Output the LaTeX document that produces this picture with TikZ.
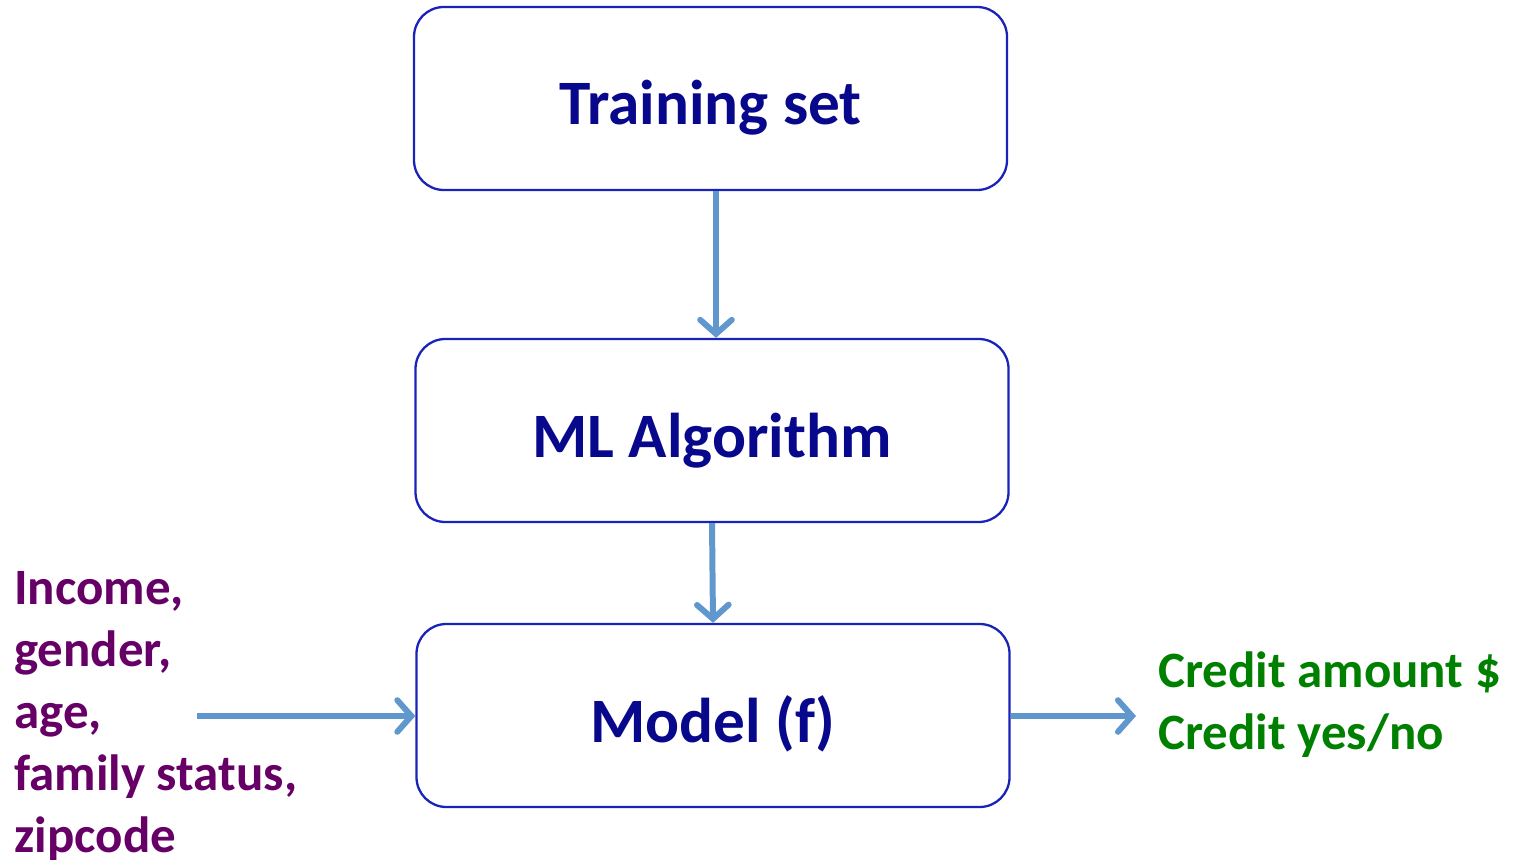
\documentclass[tikz,border=0pt]{standalone}
\usepackage{fontspec}
\setmainfont{Carlito}
\usepackage{tikz}
\usetikzlibrary{positioning, arrows.meta}
\definecolor{boxtext}{RGB}{8,8,140}
\definecolor{boxline}{RGB}{25,35,185}
\definecolor{flow}{RGB}{96,152,206}
\definecolor{inpurple}{RGB}{102,0,102}
\definecolor{outgreen}{RGB}{0,128,0}
\tikzset{
  stage/.style={draw=boxline, line width=1.3pt, rounded corners=17pt,
    minimum width=11.86cm, minimum height=3.66cm, text=boxtext,
    text height=1.06cm, text depth=0pt,
    font=\fontsize{36}{43}\selectfont\bfseries},
  flowarrow/.style={draw=flow, line width=3.4pt,
    -{Straight Barb[length=8pt, width=18pt, line cap=round]}}
}
\begin{document}
\begin{tikzpicture}
      \useasboundingbox (0,0) rectangle (30.26,-17.18);

      \node[stage] (train) at (14.21,-1.97) {Training set};
      \node[stage] (algo) at (14.24,-8.61) {ML Algorithm};
      \node[stage] (model) at (14.26,-14.31) {Model (f)};

      \node[anchor=north west, inner sep=0pt, align=left, text=inpurple,
        font=\fontsize{29}{35.3}\selectfont\bfseries] (inputs) at (0.28,-11.42)
        {Income,\\gender,\\age,\\family status,\\zipcode};
      \node[anchor=north west, inner sep=0pt, align=left, text=outgreen,
        font=\fontsize{29}{35.3}\selectfont\bfseries] (outputs) at (23.16,-13.02)
        {Credit amount \$\\Credit yes/no};

      \coordinate (infrom) at (3.94,-14.32);
      \coordinate (outto) at (22.72,-14.32);

      \draw[flowarrow] (train.south -| 14.32,0) -- (algo.north -| 14.32,0);
      \draw[flowarrow] (algo.south -| 14.24,0) -- (model.north -| 14.26,0);
      \draw[flowarrow] (infrom) -- (model.west |- infrom);
      \draw[flowarrow] (model.east |- outto) -- (outto);
    \end{tikzpicture}
\end{document}
